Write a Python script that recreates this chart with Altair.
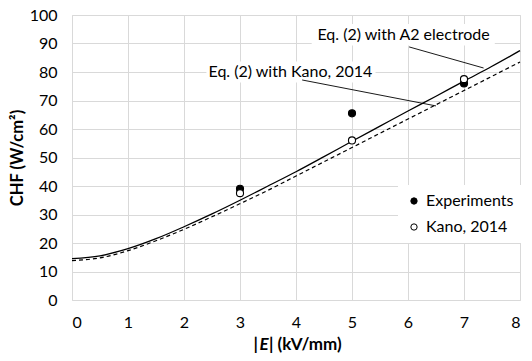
import altair as alt
import pandas as pd

FONT = "Lato"

# Model curves
e_grid = [0, 0.5, 1, 1.5, 2, 2.5, 3, 3.5, 4, 4.5, 5, 5.5, 6, 6.5, 7, 7.5, 8]
chf_a2 = [14.5, 15.5, 18.0, 21.5, 25.7, 30.2, 35.0, 40.0, 45.0, 50.3, 55.7, 61.0, 66.3, 71.5, 76.8, 82.0, 87.5]
chf_kano_eq = [13.8, 14.8, 17.3, 20.8, 24.8, 29.2, 33.8, 38.5, 43.5, 48.5, 53.5, 58.5, 63.5, 68.5, 73.5, 78.5, 83.5]

# Points
e_pts = [3, 5, 7]
chf_exp = [39.0, 65.5, 76.0]
chf_kano = [37.5, 56.0, 77.5]

series_names = ["Experiments", "Kano, 2014"]

# Annotations
ann_text = ["Eq. (2) with A2 electrode", "Eq. (2) with Kano, 2014"]
ann_x = [5.92, 3.9]
ann_y = [93.0, 80.0]
ann_box_x = [4.28, 2.40]
ann_box_x2 = [7.55, 5.42]
ann_box_y = [89.3, 76.3]
ann_box_y2 = [96.8, 83.7]
lead_x = [6.02, 4.11]
lead_y = [88.8, 77.2]
lead_x2 = [7.35, 6.5]
lead_y2 = [81.4, 68.1]

curves = pd.DataFrame(
    {"E": e_grid * 2,
     "CHF": chf_a2 + chf_kano_eq,
     "curve": ["A2"] * len(e_grid) + ["Kano"] * len(e_grid)}
)
pts = pd.DataFrame(
    {"E": e_pts * 2,
     "CHF": chf_exp + chf_kano,
     "series": [series_names[0]] * 3 + [series_names[1]] * 3,
     "order": [0] * 3 + [1] * 3}
)
ann = pd.DataFrame({
    "text": ann_text, "x": ann_x, "y": ann_y,
    "bx": ann_box_x, "bx2": ann_box_x2, "by": ann_box_y, "by2": ann_box_y2,
    "lx": lead_x, "ly": lead_y, "lx2": lead_x2, "ly2": lead_y2,
})

xs = alt.Scale(domain=[0, 8], nice=False, zero=False)
ys = alt.Scale(domain=[0, 100], nice=False)

x_axis = alt.Axis(values=list(range(0, 9)), format="d", title=None)
y_axis = alt.Axis(values=list(range(0, 101, 10)), format="d", title="CHF (W/cm²)")


def X(f):
    return alt.X(f, scale=xs, axis=x_axis)


def Y(f):
    return alt.Y(f, scale=ys, axis=y_axis)


base_curves = alt.Chart(curves)
line_a2 = base_curves.transform_filter(alt.datum.curve == "A2").mark_line(
    color="black", strokeWidth=1.3, interpolate="monotone").encode(x=X("E:Q"), y=Y("CHF:Q"))
line_kano = base_curves.transform_filter(alt.datum.curve == "Kano").mark_line(
    color="black", strokeWidth=1.2, strokeDash=[4, 3], interpolate="monotone").encode(
    x=X("E:Q"), y=Y("CHF:Q"))

boxes = alt.Chart(ann).mark_rect(color="white").encode(
    x=X("bx:Q"), x2="bx2:Q", y=Y("by:Q"), y2="by2:Q")
leaders = alt.Chart(ann).mark_rule(color="black", strokeWidth=0.9).encode(
    x=X("lx:Q"), x2="lx2:Q", y=Y("ly:Q"), y2="ly2:Q")
labels = alt.Chart(ann).mark_text(font=FONT, fontSize=16, color="black",
                                  align="center", baseline="middle").encode(
    x=X("x:Q"), y=Y("y:Q"), text="text:N")

points = alt.Chart(pts).mark_point(filled=False, size=50, strokeWidth=1.1,
                                   stroke="black", opacity=1).encode(
    x=X("E:Q"), y=Y("CHF:Q"),
    fill=alt.Fill("series:N",
                  scale=alt.Scale(domain=series_names, range=["black", "white"]),
                  legend=alt.Legend(title=None, orient="none", legendX=326, legendY=170,
                                    fillColor="white", padding=8, rowPadding=10,
                                    symbolType="circle", symbolSize=40,
                                    symbolStrokeColor="black", symbolStrokeWidth=1,
                                    labelFont=FONT, labelFontSize=16, labelColor="black",
                                    labelOffset=4)),
    order="order:Q")

t_common = dict(font=FONT, fontSize=17, fontWeight="bold", color="black", baseline="alphabetic")
agg = alt.Chart(pts).transform_aggregate(n="count()")
xt1 = agg.mark_text(align="right", **t_common).encode(
    x=alt.value(186), y=alt.value(335), text=alt.value("|"))
xt2 = agg.mark_text(align="center", fontStyle="italic", **t_common).encode(
    x=alt.value(192), y=alt.value(335), text=alt.value("E"))
xt3 = agg.mark_text(align="left", **t_common).encode(
    x=alt.value(197), y=alt.value(335), text=alt.value("| (kV/mm)"))

chart = alt.layer(line_a2, boxes, labels, leaders, line_kano, points, xt1, xt2, xt3).properties(
    width=448, height=285,
    autosize=alt.AutoSizeParams(type="none"),
    padding={"left": 64, "top": 7, "right": 4, "bottom": 53},
).configure_view(stroke=None).configure(background="white").configure_axis(
    grid=True, gridColor="#d9d9d9", gridWidth=1, domain=False, ticks=False,
    labelFontSize=16, labelFont=FONT, labelColor="#000",
    titleFont=FONT, titleFontSize=16.5, titleFontWeight="bold", titleColor="#000",
).configure_axisY(titlePadding=4, labelPadding=15).configure_axisX(labelPadding=14)

chart.save("out.html", embed_options={"renderer": "svg", "actions": False})
